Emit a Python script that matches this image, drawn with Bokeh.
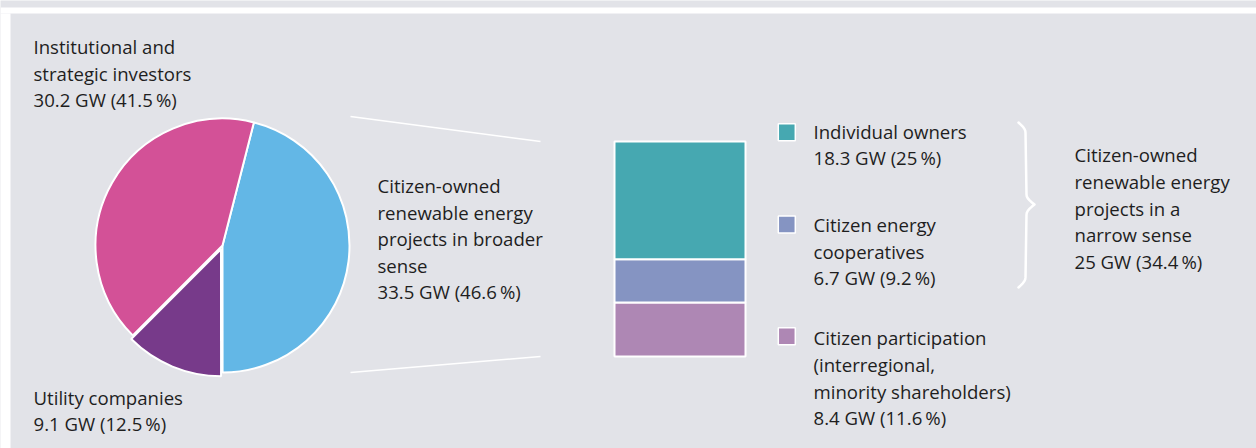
import math
from bokeh.plotting import figure
from bokeh.models import Range1d
from bokeh.core.properties import value
from bokeh.embed import file_html
from bokeh.resources import INLINE

# ---------------- data ----------------
pie_labels = ["Citizen-owned renewable energy projects in broader sense",
              "Utility companies", "Institutional and strategic investors"]
pie_gw = [33.5, 9.1, 30.2]
pie_pct = [46.6, 12.5, 41.5]
pie_colors = ["#63b7e6", "#773a8a", "#d35197"]

bar_labels = ["Citizen participation (interregional, minority shareholders)",
              "Citizen energy cooperatives", "Individual owners"]
bar_gw = [8.4, 6.7, 18.3]
bar_pct = [11.6, 9.2, 25]
bar_colors = ["#ae87b4", "#8594c2", "#46a8b1"]

narrow_gw = 25
narrow_pct = 34.4

W, H = 1256, 448
BG = "#e2e3e8"
TXT = "#1e1e1e"
FONT = "Open Sans"
FS = "18.6px"
LH = 26.6
OX, OY = 0, 0  # page offset of the figure


def sx(x):  # screen x -> data x
    return x - OX


def sy(y):  # screen y -> data y
    return H - (y - OY)


def fmt(gw, pct):
    return f"{gw:g} GW ({pct:g}\u2009%)"


p = figure(width=W, height=H, output_backend="svg", toolbar_location=None,
           x_range=Range1d(0, W), y_range=Range1d(0, H), min_border=0,
           background_fill_color=BG, border_fill_color=BG, outline_line_color=None)
p.axis.visible = False
p.grid.visible = False

# white strips at top & left edge
p.quad(left=[sx(0), sx(0)], right=[sx(W), sx(10)], bottom=[sy(13), sy(H)], top=[sy(7), sy(13)],
       fill_color="white", line_color=None)

# ---------------- pie ----------------
cx, cy, r = sx(222), sy(245), 127
start_deg = 14.3  # clockwise from top
total = sum(pie_gw)
starts, ends, xs, ys = [], [], [], []
acc = start_deg
for i, g in enumerate(pie_gw):
    span = g / total * 360
    a0 = acc
    a1 = acc + span
    acc = a1
    starts.append(math.radians(90 - a0))
    ends.append(math.radians(90 - a1))
    off = 4 if i == 1 else 0
    mid = math.radians(90 - (a0 + a1) / 2)
    xs.append(cx + off * math.cos(mid))
    ys.append(cy + off * math.sin(mid))
p.wedge(x=xs, y=ys, radius=r, start_angle=starts, end_angle=ends,
        direction="clock", fill_color=pie_colors, line_color="white", line_width=2)

# ---------------- stacked bar ----------------
bar_bottom_px, bar_top_px = 356, 141
k = (bar_bottom_px - bar_top_px) / sum(bar_gw)
base = sy(bar_bottom_px)
p.extra_y_ranges = {"gw": Range1d(-base / k, (H - base) / k)}
bottoms, tops = [], []
acc = 0
for g in bar_gw:
    bottoms.append(acc)
    acc += g
    tops.append(acc)
p.vbar(x=[sx(679.5)] * 3, width=131, bottom=bottoms, top=tops, y_range_name="gw",
       fill_color=bar_colors, line_color="white", line_width=2)

# connector lines
p.segment(x0=[sx(350), sx(350)], y0=[sy(116), sy(372)],
          x1=[sx(540), sx(540)], y1=[sy(bar_top_px), sy(bar_bottom_px)],
          line_color="white", line_width=1.6)

# legend squares
sq_y = [335.7, 224, 131.7]
p.rect(x=[sx(786.3)] * 3, y=[sy(v) for v in sq_y], width=17, height=17,
       fill_color=bar_colors, line_color="white", line_width=1.5)


def lines(x, y0, texts):
    p.text(x=[sx(x)] * len(texts), y=[sy(y0 + i * LH) for i in range(len(texts))],
           text=texts, text_font=value(FONT), text_font_size=FS,
           text_color=TXT, text_baseline="middle", text_align="left")


lines(33, 46, ["Institutional and", "strategic investors", fmt(pie_gw[2], pie_pct[2])])
lines(33, 396.7, ["Utility companies", fmt(pie_gw[1], pie_pct[1])])
lines(377, 185, ["Citizen-owned", "renewable energy", "projects in broader", "sense",
                 fmt(pie_gw[0], pie_pct[0])])
lines(813, 130.7, ["Individual owners", fmt(bar_gw[2], bar_pct[2])])
lines(813, 224, ["Citizen energy", "cooperatives", fmt(bar_gw[1], bar_pct[1])])
lines(813, 337.3, ["Citizen participation", "(interregional,", "minority shareholders)",
                   fmt(bar_gw[0], bar_pct[0])])
lines(1074, 154.3, ["Citizen-owned", "renewable energy", "projects in a", "narrow sense",
                    fmt(narrow_gw, narrow_pct)])

# curly brace (right-pointing)
bx, btop, bbot, bmid = sx(1018), sy(122), sy(287), sy(204)
xsb, ysb = [], []
n = 40
for half in (0, 1):
    y_end = btop if half == 0 else bbot
    for j in range(n + 1):
        t = j / n
        yy = y_end + (bmid - y_end) * t
        if t < 0.12:
            u = t / 0.12
            xx = 7 * math.sin(u * math.pi / 2)
        elif t < 0.88:
            xx = 7 + 1.0 * (t - 0.12) / 0.76
        else:
            u = (t - 0.88) / 0.12
            xx = 8 + 8 * (1 - math.cos(u * math.pi / 2))
        xsb.append(bx + xx)
        ysb.append(yy)
    xsb.append(float("nan"))
    ysb.append(float("nan"))
p.line(x=xsb, y=ysb, line_color="white", line_width=2.5, line_cap="round", line_join="round")

open("out.html", "w").write(file_html(p, INLINE))
